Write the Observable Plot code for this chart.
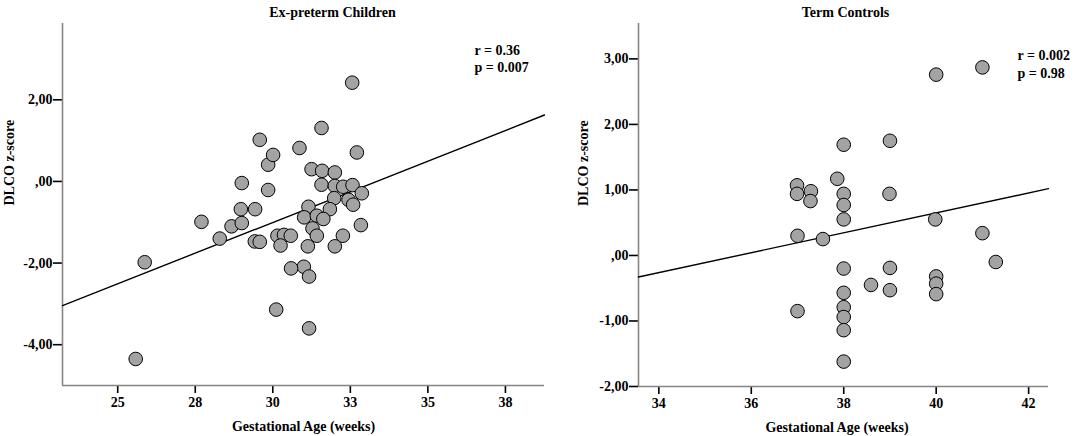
<!DOCTYPE html>
<html>
<head>
<meta charset="utf-8">
<script src="https://cdn.jsdelivr.net/npm/d3@7"></script>
<script src="https://cdn.jsdelivr.net/npm/@observablehq/plot@0.6"></script>
<style>
  html, body { margin: 0; padding: 0; background: white; }
  #wrap { display: flex; width: 1084px; height: 436px; }
</style>
</head>
<body>
<div id="wrap"></div>
<script>
// ---------- Ex-preterm Children ----------
const pretermAge = [25.58, 25.87, 27.70, 28.29, 28.67, 29.00, 28.97, 29.00, 29.43, 29.42,
  29.58, 29.58, 29.85, 30.01, 29.85, 30.15, 30.36, 30.58, 30.25, 30.86,
  31.25, 31.59, 32.00, 31.57, 32.00, 32.27, 32.57, 32.87, 31.98, 32.44,
  32.59, 31.84, 31.15, 31.01, 31.42, 31.63, 32.84, 31.28, 31.42, 32.26,
  31.13, 32.00, 31.00, 30.59, 31.17, 30.11, 31.17, 32.56, 32.71, 31.57];
const pretermDLCO = [-4.35, -1.98, -0.99, -1.40, -1.10, -1.02, -0.68, -0.04, -0.68, -1.47,
  -1.48, 1.02, 0.41, 0.65, -0.21, -1.33, -1.31, -1.33, -1.57, 0.82,
  0.30, 0.26, 0.22, -0.08, -0.11, -0.13, -0.09, -0.29, -0.41, -0.45,
  -0.57, -0.68, -0.62, -0.88, -0.84, -0.92, -1.07, -1.15, -1.33, -1.33,
  -1.59, -1.59, -2.09, -2.13, -2.33, -3.14, -3.60, 2.42, 0.71, 1.31];
const pretermXTicks = [25, 27.5, 30, 32.5, 35, 37.5];
const pretermXTickLabels = ["25", "28", "30", "33", "35", "38"];
const pretermYTicks = [2, 0, -2, -4];
const pretermYTickLabels = ["2,00", ",00", "-2,00", "-4,00"];
const pretermFit = [-10.02, 0.3005];   // intercept, slope
const pretermStats = ["r = 0.36", "p = 0.007"];

// ---------- Term Controls ----------
const termAge = [36.99, 36.99, 37.29, 37.28, 37.86, 38.00, 38.00, 38.00, 38.99, 39.98,
  37.00, 37.55, 38.00, 39.00, 38.59, 39.00, 40.00, 40.00, 40.00, 38.00,
  38.00, 38.00, 38.00, 38.00, 37.00, 38.00, 39.00, 40.00, 41.00, 41.00, 41.29];
const termDLCO = [1.07, 0.94, 0.98, 0.83, 1.17, 0.94, 0.77, 0.55, 0.94, 0.55,
  0.30, 0.25, -0.20, -0.19, -0.45, -0.53, -0.32, -0.43, -0.59, -0.57,
  -0.79, -0.94, -1.14, -1.62, -0.85, 1.69, 1.75, 2.76, 2.87, 0.34, -0.10];
const termXTicks = [34, 36, 38, 40, 42];
const termXTickLabels = ["34", "36", "38", "40", "42"];
const termYTicks = [3, 2, 1, 0, -1, -2];
const termYTickLabels = ["3,00", "2,00", "1,00", ",00", "-1,00", "-2,00"];
const termFit = [-5.43, 0.152];
const termStats = ["r = 0.002", "p = 0.98"];

const xLabel = "Gestational Age (weeks)";
const yLabel = "DLCO z-score";

function panel(o) {
  const pts = o.xs.map((x, i) => ({x, y: o.ys[i]}));
  const fit = o.xDomain.map(x => ({x, y: o.fit[0] + o.fit[1] * x}));
  const font = {fontFamily: "'Liberation Serif', 'Times New Roman', serif", fontWeight: "bold"};
  return Plot.plot({
    width: o.width, height: 436,
    marginLeft: o.ml, marginRight: o.mr, marginTop: 23, marginBottom: o.mb,
    style: {...font, fontSize: "14px", background: "white", color: "black", overflow: "visible"},
    x: {domain: o.xDomain, axis: null},
    y: {domain: o.yDomain, axis: null},
    marks: [
      Plot.axisX({ticks: o.xTicks, tickFormat: d => o.xTickLabels[o.xTicks.indexOf(d)],
        tickSize: 8, tickPadding: 4, label: null, strokeWidth: 1.6, fontSize: 14}),
      Plot.axisY({ticks: o.yTicks, tickFormat: d => o.yTickLabels[o.yTicks.indexOf(d)],
        tickSize: 9, tickPadding: 1, label: null, strokeWidth: 1.6, fontSize: 14}),
      Plot.ruleX([o.xDomain[0]], {stroke: "#858585", strokeWidth: 1.6}),
      Plot.ruleY([o.yDomain[0]], {stroke: "#858585", strokeWidth: 1.6}),
      Plot.line(fit, {x: "x", y: "y", stroke: "black", strokeWidth: 1.4}),
      Plot.dot(pts, {x: "x", y: "y", r: 6.8, fill: "#a3a3a3", stroke: "black", strokeWidth: 1}),
      Plot.text([o.title], {text: d => d, frameAnchor: "top", dx: o.titleDx, dy: -11,
        lineAnchor: "middle", fontSize: 14, ...font}),
      Plot.text([xLabel], {text: d => d, frameAnchor: "bottom", dx: o.xLabelDx, dy: 41,
        lineAnchor: "middle", fontSize: 14, ...font}),
      Plot.text([yLabel], {text: d => d, frameAnchor: "left", dx: o.yLabelDx, dy: 1, rotate: -90,
        lineAnchor: "middle", fontSize: 14, ...font}),
      Plot.text([o.stats.join("\n")], {text: d => d, frameAnchor: "top-left", dx: o.statsDx, dy: o.statsDy,
        textAnchor: "start", lineAnchor: "middle", lineHeight: o.statsLH, fontSize: 14, ...font})
    ]
  });
}

const wrap = document.getElementById("wrap");
wrap.appendChild(panel({
  xs: pretermAge, ys: pretermDLCO, width: 560, ml: 62, mr: 16, mb: 51,
  xDomain: [23.22, 38.76], yDomain: [-5.0, 3.87],
  xTicks: pretermXTicks, xTickLabels: pretermXTickLabels,
  yTicks: pretermYTicks, yTickLabels: pretermYTickLabels,
  fit: pretermFit, title: "Ex-preterm Children", titleDx: 29, xLabelDx: 0, yLabelDx: -53,
  stats: pretermStats, statsDx: 412, statsDy: 34.5, statsLH: 1.22
}));
wrap.appendChild(panel({
  xs: termAge, ys: termDLCO, width: 524, ml: 78, mr: 36, mb: 50,
  xDomain: [33.56, 42.43], yDomain: [-2.0, 3.54],
  xTicks: termXTicks, xTickLabels: termXTickLabels,
  yTicks: termYTicks, yTickLabels: termYTickLabels,
  fit: termFit, title: "Term Controls", titleDx: 2, xLabelDx: -6.5, yLabelDx: -55,
  stats: termStats, statsDx: 379, statsDy: 39.5, statsLH: 1.31
}));
</script>
</body>
</html>
